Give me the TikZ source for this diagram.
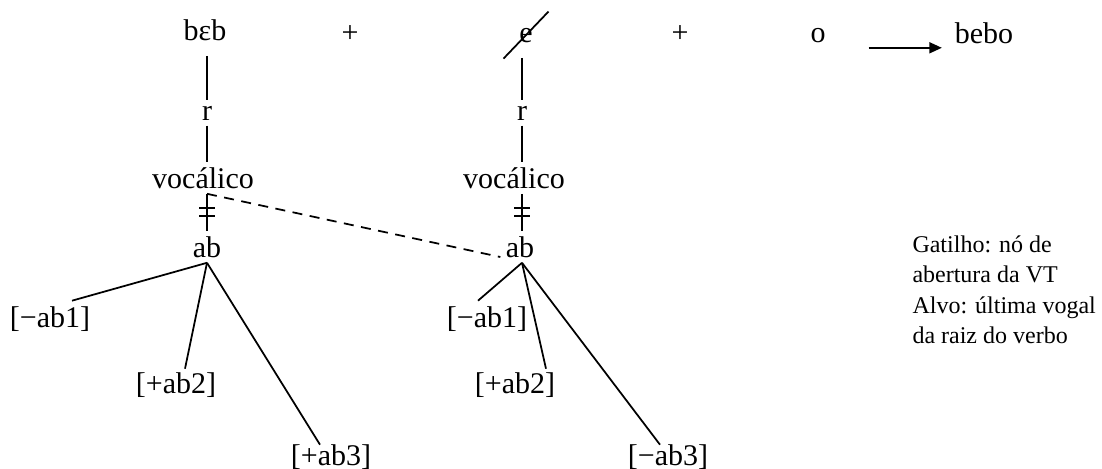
\documentclass[tikz,border=0pt]{standalone}
\usepackage{fontspec}
\setmainfont{Liberation Serif}
\usepackage{tikz}
\usetikzlibrary{arrows.meta,calc}

\begin{document}
\begin{tikzpicture}[x=0.4pt, y=-0.4pt,
    every node/.style={font=\fontsize{12}{14}\selectfont, inner sep=2pt},
    seg/.style={anchor=base},
    feat/.style={anchor=base},
    note/.style={anchor=base west, inner sep=0pt, align=left,
        font=\fontsize{9.6}{12}\selectfont},
    ln/.style={line width=0.7pt},
    dashln/.style={line width=0.7pt, dash pattern=on 4pt off 3pt},
    arr/.style={-{Triangle[length=5pt,width=4.4pt]}, line width=0.7pt}
]
    \useasboundingbox (0,0) rectangle (1102,468);

    \node[seg] (beb) at (205,40) {bɛb};
    \node[seg] (plus1) at (350,42) {+};
    \node[seg] (e) at (526,42) {e};
    \node[seg] (plus2) at (680,42) {+};
    \node[seg] (o) at (818,42) {o};
    \node[seg] (bebo) at (984,43) {bebo};

    \node[seg] (r1) at (207,120) {r};
    \node[seg] (voc1) at (203,188) {vocálico};
    \node[seg] (ab1) at (207,257) {ab};
    \node[feat] (c1) at (50,327) {[−ab1]};
    \node[feat] (c2) at (176,393) {[+ab2]};
    \node[feat] (c3) at (331,465) {[+ab3]};

    \node[seg] (r2) at (522,120) {r};
    \node[seg] (voc2) at (514,188) {vocálico};
    \node[seg] (ab2) at (520,257) {ab};
    \node[feat] (d1) at (487,327) {[−ab1]};
    \node[feat] (d2) at (515,393) {[+ab2]};
    \node[feat] (d3) at (668,465) {[−ab3]};

    \node[note] (trig) at (912,282) {Gatilho: nó de\\abertura da VT};
    \node[note] (targ) at (912,343) {Alvo: última vogal\\da raiz do verbo};

    \draw[arr, shorten <=15pt, shorten >=3pt] (o.south east) -- (o.south east -| bebo.west);
    \draw[ln, shorten <=-6pt, shorten >=-6pt] (e.south west) -- (e.north east);

    \draw[ln, shorten <=4pt] (r1.north |- beb.south) -- (r1.north);
    \draw[ln] (r1.south) -- (r1.south |- voc1.north);
    \draw[ln] (ab1.north |- voc1.south) -- (ab1.north);
    \coordinate (m1) at ($(ab1.north |- voc1.south)!0.5!(ab1.north)$);
    \draw[ln] ($(m1)+(-8,-4)$) -- ++(16,0) ($(m1)+(-8,4)$) -- ++(16,0);

    \draw[ln, shorten <=4pt] (r2.north |- e.south) -- (r2.north);
    \draw[ln] (r2.south) -- (r2.south |- voc2.north);
    \draw[ln] (r2.south |- voc2.south) -- (r2.south |- ab2.north);
    \coordinate (m2) at ($(r2.south |- voc2.south)!0.5!(r2.south |- ab2.north)$);
    \draw[ln] ($(m2)+(-8,-4)$) -- ++(16,0) ($(m2)+(-8,4)$) -- ++(16,0);

    \draw[dashln] (ab1.north |- voc1.south) -- (ab2.base west);

    \draw[ln] (ab1.south) -- ($(c1.north)+(22,0)$);
    \draw[ln] (ab1.south) -- ($(c2.north)+(9,2)$);
    \draw[ln] (ab1.south) -- ($(c3.north)+(-11,6)$);

    \draw[ln] (ab2.south -| r2) -- ($(d1.north)+(-9,0)$);
    \draw[ln] (ab2.south -| r2) -- ($(d2.north)+(31,2)$);
    \draw[ln] (ab2.south -| r2) -- ($(d3.north)+(-8,6)$);
\end{tikzpicture}
\end{document}
